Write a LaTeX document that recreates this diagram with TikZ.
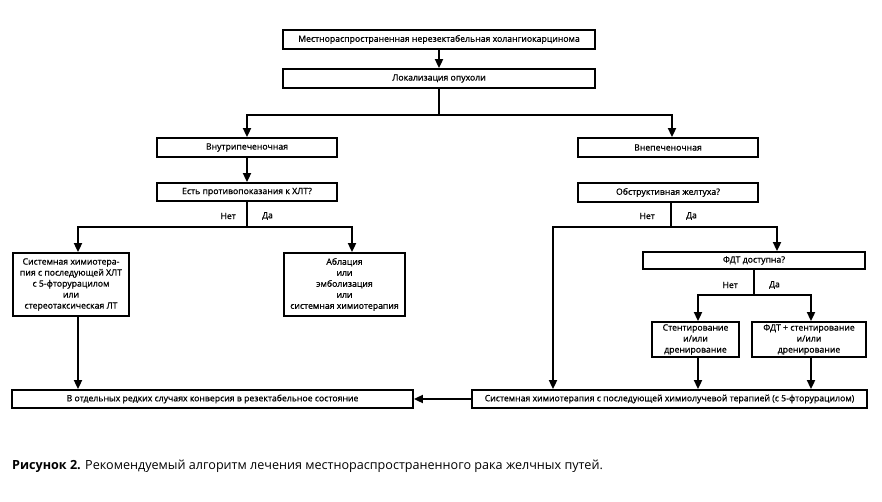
\documentclass[tikz,border=0pt]{standalone}
\usepackage{fontspec}
\setmainfont{Open Sans}
\newfontfamily\boxfont{Open Sans}[FakeBold=0.8]
\usetikzlibrary{arrows.meta,calc}
\begin{document}
\begin{tikzpicture}[x=1pt,y=-1pt,
  box/.style={draw,line width=1.8pt,inner sep=0pt,align=center,
    font=\boxfont\fontsize{8.7}{11}\selectfont},
  link/.style={line width=1.8pt},
  arr/.style={line width=1.8pt,-{Triangle[length=9pt,width=8pt]}},
  lab/.style={font=\boxfont\fontsize{8.6}{10}\selectfont,inner sep=0pt}]
\useasboundingbox[fill=white] (0,0) rectangle (882,502);
% boxes
\node[box,minimum width=312pt,minimum height=19pt] (top) at (439,39.5) {Местнораспространенная нерезектабельная холангиокарцинома};
\node[box,minimum width=312pt,minimum height=19pt] (loc) at (439,78.5) {Локализация опухоли};
\node[box,minimum width=180pt,minimum height=19pt] (vnu) at (247,147.5) {Внутрипеченочная};
\node[box,minimum width=180pt,minimum height=18pt] (est) at (247,192) {Есть противопоказания к ХЛТ?};
\node[box,minimum width=116pt,minimum height=63pt] (lft) at (71,284.5) {Системная химиотера-\\пия с последующей ХЛТ\\с 5-фторурацилом\\или\\стереотаксическая ЛТ};
\node[box,minimum width=121pt,minimum height=63pt] (abl) at (344.5,284.5) {Аблация\\или\\эмболизация\\или\\системная химиотерапия};
\node[box,minimum width=180pt,minimum height=19pt] (vne) at (668,147.5) {Внепеченочная};
\node[box,minimum width=180pt,minimum height=19pt] (obs) at (668,192.5) {Обструктивная желтуха?};
\node[box,minimum width=222pt,minimum height=17pt] (fdt) at (754,260.5) {ФДТ доступна?};
\node[box,minimum width=87pt,minimum height=35pt] (stn) at (695.5,339.5) {Стентирование\\и/или\\дренирование};
\node[box,minimum width=114pt,minimum height=35pt] (fdp) at (809,339.5) {ФДТ + стентирование\\и/или\\дренирование};
\node[box,minimum width=401pt,minimum height=18pt] (bl) at (212.5,399) {В отдельных редких случаях конверсия в резектабельное состояние};
\node[box,minimum width=395pt,minimum height=18pt] (br) at (669.5,399) {Системная химиотерапия с последующей химиолучевой терапией (с 5-фторурацилом)};
% junctions
\coordinate (j1) at (439,115);
\coordinate (j1l) at (247,115);
\coordinate (j1r) at (672,115);
\coordinate (j2) at (247,227);
\coordinate (j2l) at (78,227);
\coordinate (j2r) at (352,227);
\coordinate (j3) at (671,227);
\coordinate (j3l) at (553,227);
\coordinate (j3r) at (777,227);
\coordinate (j4) at (754,295);
\coordinate (j4l) at (698,295);
\coordinate (j4r) at (811,295);
% connectors
\draw[arr] (top) -- (loc);
\draw[link] (loc.south) -- (j1);
\draw[link,line cap=rect] (j1l) -- (j1r);
\draw[arr] (j1l) -- (vnu.north);
\draw[arr] (j1r) -- (j1r |- vne.north);
\draw[arr] (vnu) -- (est);
\draw[link] (est.south) -- (j2);
\draw[link,line cap=rect] (j2l) -- (j2r);
\draw[arr] (j2l) -- (j2l |- lft.north);
\draw[arr] (j2r) -- (j2r |- abl.north);
\draw[arr] (lft.south -| j2l) -- (j2l |- bl.north);
\draw[link] (obs.south -| j3) -- (j3);
\draw[link,line cap=rect] (j3l) -- (j3r);
\draw[arr] (j3l) -- (j3l |- br.north);
\draw[arr] (j3r) -- (j3r |- fdt.north);
\draw[link] (fdt.south) -- (j4);
\draw[link,line cap=rect] (j4l) -- (j4r);
\draw[arr] (j4l) -- (j4l |- stn.north);
\draw[arr] (j4r) -- (j4r |- fdp.north);
\draw[arr] (stn.south -| j4l) -- (j4l |- br.north);
\draw[arr] (fdp.south -| j4r) -- (j4r |- br.north);
\draw[arr] (br.west) -- (bl.east);
% labels
\node[lab,anchor=east] (n1) at (236,216) {Нет};
\node[lab,anchor=west] (d1) at (262,216) {Да};
\node[lab,anchor=east] (n2) at (655,216) {Нет};
\node[lab,anchor=west] (d2) at (686,216) {Да};
\node[lab,anchor=east] (n3) at (738,285) {Нет};
\node[lab,anchor=west] (d3) at (769,285) {Да};
% caption
\node[anchor=base west,inner sep=0pt,font=\fontsize{12.6}{15}\selectfont] (cap) at (12,469) {\textbf{Рисунок 2.} Рекомендуемый алгоритм лечения местнораспространенного рака желчных путей.};
\end{tikzpicture}
\end{document}
